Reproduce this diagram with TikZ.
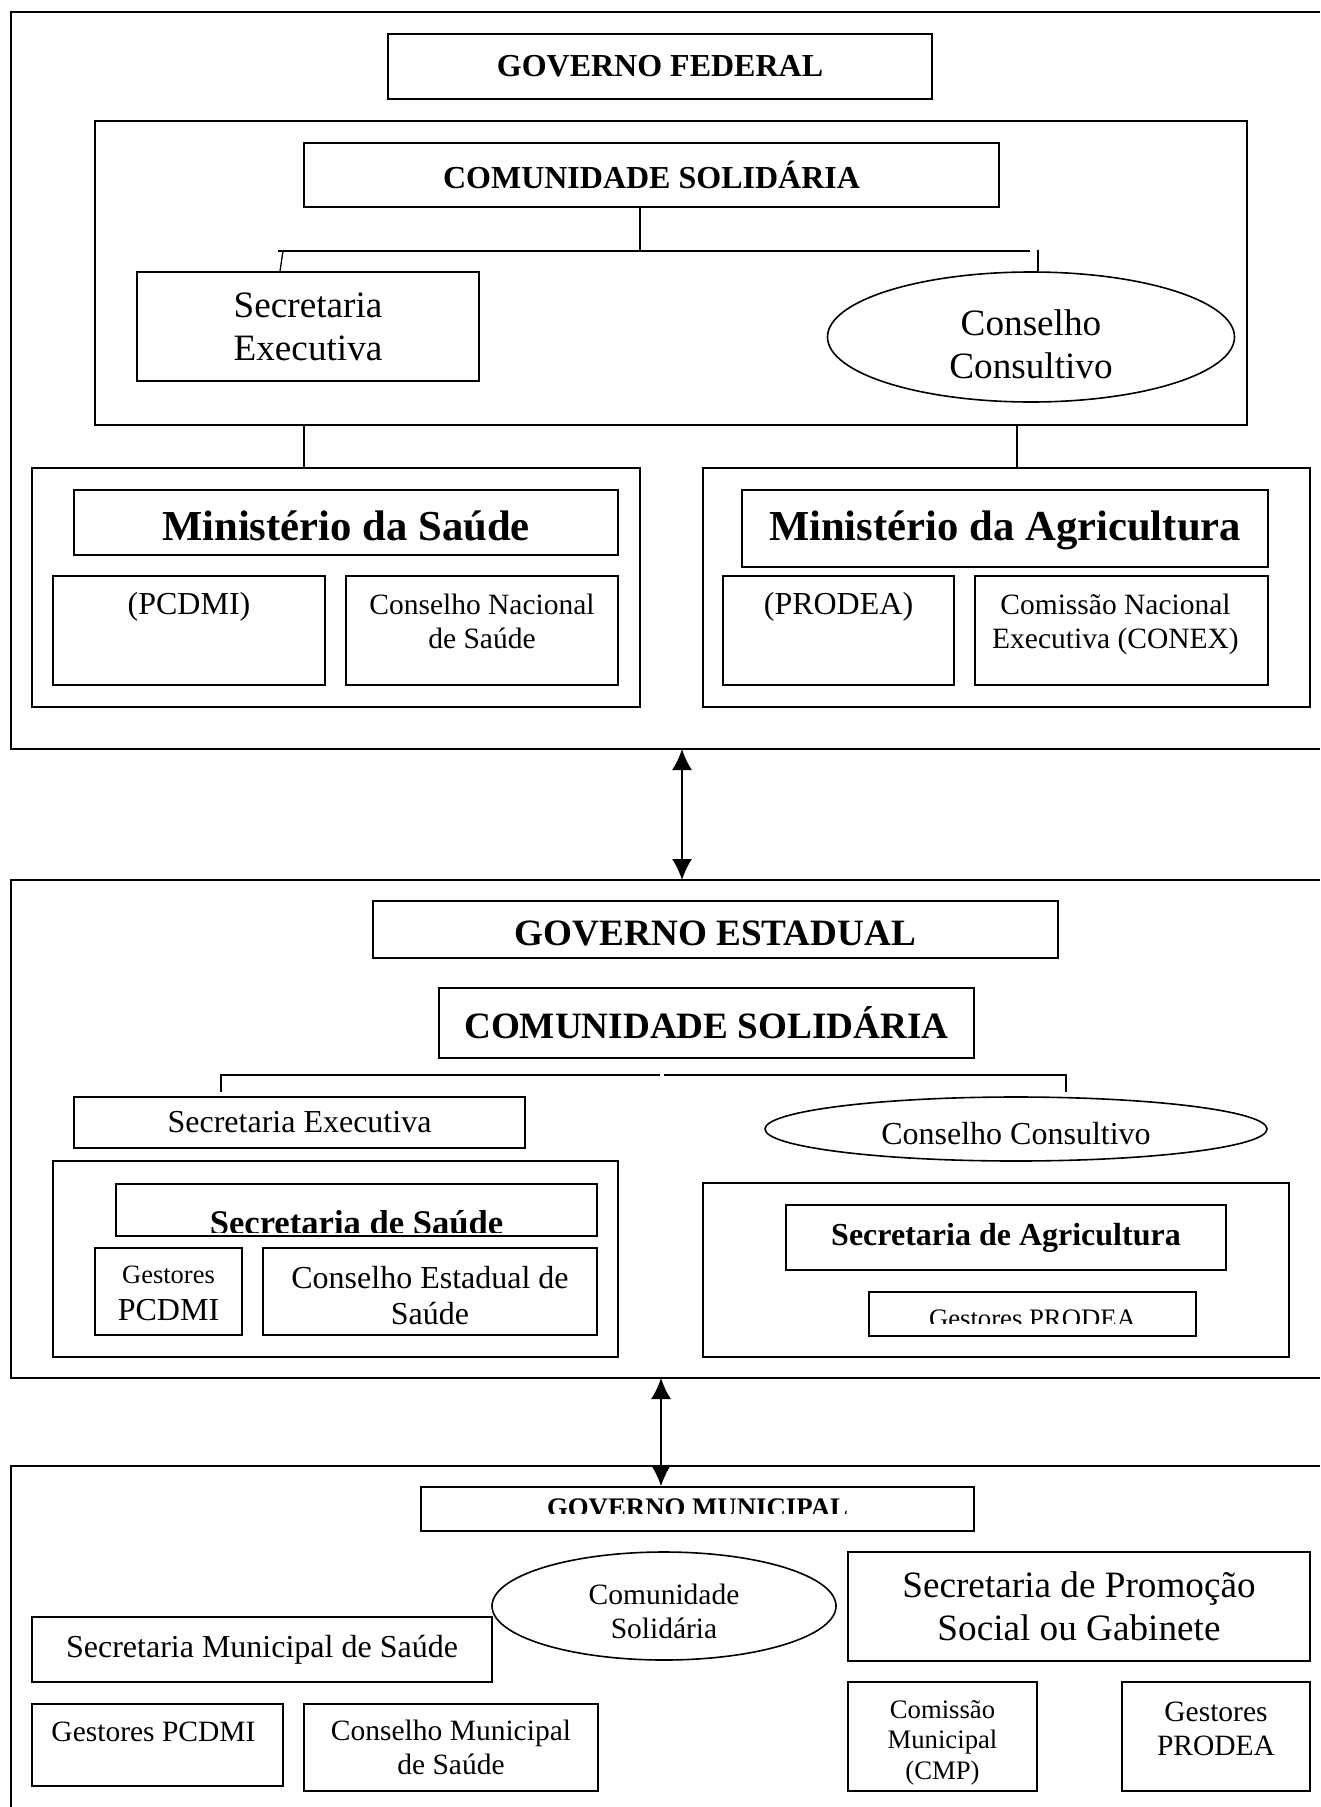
\documentclass[tikz,border=0pt]{standalone}
\usepackage{fontspec}
\setmainfont{Liberation Serif}
\usetikzlibrary{arrows.meta,shapes.geometric}

\tikzset{
  box/.style={draw, line width=1.6pt, inner sep=0pt, align=center},
  oval/.style={draw, ellipse, line width=1.6pt, inner sep=0pt, align=center},
  sz/.style 2 args={minimum width=#1pt, minimum height=#2pt},
  frame/.style={line width=2pt},
  link/.style={line width=1.3pt},
  both/.style={line width=1.6pt, {Latex[length=21pt,width=20pt]}-{Latex[length=21pt,width=20pt]}},
  t26/.style={font=\fontsize{26.7}{30.5}\selectfont},
  t29/.style={font=\fontsize{29.5}{33.8}\selectfont},
  t32/.style={font=\fontsize{32}{36.5}\selectfont},
  t37/.style={font=\fontsize{37.2}{43}\selectfont},
  b26/.style={font=\fontsize{26.8}{30.5}\selectfont\bfseries},
  b32/.style={font=\fontsize{32}{36.5}\selectfont\bfseries},
  b35/.style={font=\fontsize{34.6}{39.5}\selectfont\bfseries},
  b37/.style={font=\fontsize{37.2}{42.5}\selectfont\bfseries},
  b43/.style={font=\fontsize{42.7}{49}\selectfont\bfseries}
}

\begin{document}
\begin{tikzpicture}[x=1pt,y=-1pt]
    \useasboundingbox (0,0) rectangle (1320,1807);

    % governo federal
    \draw[frame] (1320,12) -- (11,12) -- (11,749) -- (1320,749);
    \node[box, sz={544}{65}, b32] (fed) at (660,66.5) {GOVERNO FEDERAL};
    \node[box, sz={1152}{304}] (inner) at (671,273) {};
    \node[box, sz={695}{64}, b32] (csfed) at (651.5,175) {COMUNIDADE SOLIDÁRIA};
    \node[box, sz={342}{109}, t37] (secfed) at (308,326.5) {Secretaria\\Executiva};
    \node[oval, sz={407}{130}] (consfed) at (1031,337) {};
    \node[t37, align=center] (consfedtxt) at ([yshift=-7pt]consfed.center) {Conselho\\Consultivo};

    \coordinate (jfed) at (640,251);
    \coordinate (jl) at (278,251);
    \coordinate (jr) at (1030,251);
    \draw[link] ([xshift=-11.5pt]csfed.south) -- (jfed);
    \draw[link] (jl) -- (jr);
    \draw[link] ([xshift=-25pt]secfed.north |- jl) -- ([xshift=-28pt]secfed.north);
    \draw[link] ([xshift=7pt]consfed.north) -- ++(0,-21);

    \node[box, sz={608}{239}] (saude) at (336,587.5) {};
    \node[box, sz={544}{65}] (msaude) at (346,522.5) {};
    \node[b43] (msaudetxt) at ([yshift=-3pt]msaude.center) {Ministério da Saúde};
    \node[box, sz={272}{109}] (pcdmi) at (189,630.5) {};
    \node[t32] (pcdmitxt) at ([yshift=-32pt]pcdmi.north) {(PCDMI)};
    \node[box, sz={272}{109}] (cns) at (482,630.5) {};
    \node[t29, align=center] (cnstxt) at ([yshift=-46.5pt]cns.north) {Conselho Nacional\\de Saúde};

    \node[box, sz={607}{239}] (agric) at (1006.5,587.5) {};
    \node[box, sz={526}{77}] (magric) at (1005,528.5) {};
    \node[b43] (magrictxt) at ([yshift=-2pt]magric.center) {Ministério da Agricultura};
    \node[box, sz={231}{109}] (prodea) at (838.5,630.5) {};
    \node[t32] (prodeatxt) at ([yshift=-32pt]prodea.north) {(PRODEA)};
    \node[box, sz={293}{109}] (conex) at (1121.5,630.5) {};
    \node[t29, align=center] (conextxt) at ([xshift=-6pt,yshift=-49.5pt]conex.north) {Comissão Nacional\\Executiva (CONEX)};

    \draw[link] ([xshift=-32pt]saude.north) -- ++(0,-43);
    \draw[link] ([xshift=10.5pt]agric.north) -- ++(0,-43);

    \coordinate (fedbot) at (682,749);
    \coordinate (esttop) at (682,880);
    \draw[both] (fedbot) -- (esttop);

    % governo estadual
    \draw[frame] (1320,880) -- (11,880) -- (11,1378) -- (1320,1378);
    \node[box, sz={685}{57}] (est) at (715.5,929.5) {};
    \node[b37] (esttxt) at ([yshift=-4pt]est.center) {GOVERNO ESTADUAL};
    \node[box, sz={535}{70}, b37] (csest) at (706.5,1023) {COMUNIDADE SOLIDÁRIA};
    \node[box, sz={451}{51}, t32] (secest) at (299.5,1122.5) {Secretaria Executiva};
    \node[oval, sz={502}{64}] (consest) at (1016,1129) {};
    \node[t32] (consesttxt) at ([yshift=-5pt]consest.center) {Conselho Consultivo};

    \coordinate (gapl) at (660,1075);
    \coordinate (gapr) at (664,1075);
    \draw[link] ([xshift=-78.5pt,yshift=4pt]secest.north) |- (gapl);
    \draw[link] (gapr) -| ([xshift=50pt,yshift=4pt]consest.north);

    \node[box, sz={565}{196}] (sesa) at (335.5,1259) {};
    \node[box, sz={481}{52}] (sesatit) at (356.5,1210) {};
    \begin{scope}
        \clip (sesatit.north west) rectangle ([yshift=4pt]sesatit.south east);
        \node[b35, anchor=base] (sesatxt) at (356.5,1234) {Secretaria de Saúde};
    \end{scope}
    \node[box, sz={147}{87}] (gespcdmi) at (168.5,1291.5) {};
    \node[t32, align=center] (gespcdmitxt) at ([yshift=-2pt]gespcdmi.center) {{\fontsize{26.5}{30}\selectfont Gestores}\\PCDMI};
    \node[box, sz={334}{87}] (cesa) at (430,1291.5) {};
    \node[t32, align=center] (cesatxt) at ([yshift=-4pt]cesa.center) {Conselho Estadual de\\Saúde};

    \node[box, sz={586}{174}] (seagr) at (996,1270) {};
    \node[box, sz={440}{65}, b32] (seagrtit) at (1006,1237.5) {Secretaria de Agricultura};
    \node[box, sz={327}{44}] (gesprodea) at (1032.5,1314) {};
    \begin{scope}
        \clip (gesprodea.north west) rectangle ([yshift=13pt]gesprodea.south east);
        \node[t26, anchor=base] (gesprodeatxt) at (1032.5,1327) {Gestores PRODEA};
    \end{scope}

    % governo municipal
    \draw[frame] (1320,1466) -- (11,1466) -- (11,1807);
    \node[box, sz={553}{44}] (mun) at (697.5,1509) {};
    \begin{scope}
        \clip (mun.north west) rectangle ([yshift=18pt]mun.south east);
        \node[b26, anchor=base] (muntxt) at (697.5,1516.5) {GOVERNO MUNICIPAL};
    \end{scope}

    \coordinate (estbot) at (661,1378);
    \draw[both] (estbot) -- (mun.north -| estbot);

    \node[oval, sz={344}{108}] (csmun) at (664,1606) {};
    \node[t29, align=center] (csmuntxt) at ([yshift=-5pt]csmun.center) {Comunidade\\Solidária};
    \node[box, sz={462}{109}, t37] (promo) at (1079,1606.5) {Secretaria de Promoção\\Social ou Gabinete};
    \node[box, sz={460}{65}, t32] (smsa) at (262,1649.5) {Secretaria Municipal de Saúde};

    \node[box, sz={251}{82}] (mgespcdmi) at (157.5,1745) {};
    \node[t29] (mgespcdmitxt) at ([xshift=-4pt,yshift=-29pt]mgespcdmi.north) {Gestores PCDMI};
    \node[box, sz={294}{87}, t29] (cmsa) at (451,1747.5) {Conselho Municipal\\de Saúde};
    \node[box, sz={189}{109}] (cmp) at (942.5,1736.5) {};
    \node[t26, align=center] (cmptxt) at ([yshift=-61.5pt]cmp.north) {Comissão\\Municipal\\(CMP)};
    \node[box, sz={188}{109}] (mgesprodea) at (1216,1736.5) {};
    \node[t29, align=center] (mgesprodeatxt) at ([yshift=-48pt]mgesprodea.north) {Gestores\\PRODEA};
\end{tikzpicture}
\end{document}
